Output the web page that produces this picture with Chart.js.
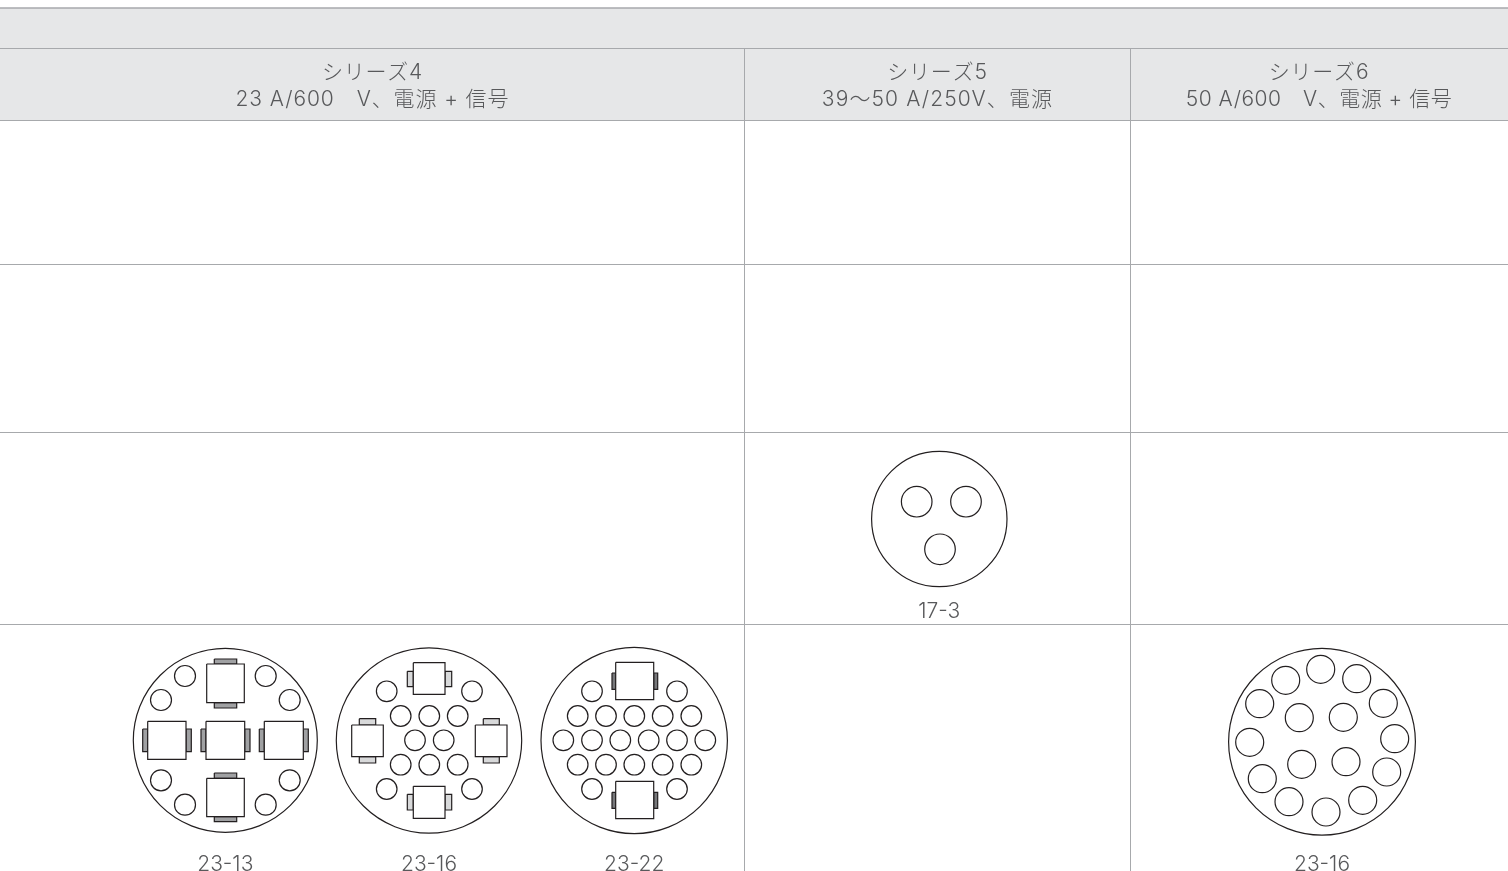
<!DOCTYPE html>
<html lang="ja">
<head>
<meta charset="utf-8">
<title>シリーズ</title>
<script src="https://cdn.jsdelivr.net/npm/chart.js@4/dist/chart.umd.min.js"></script>
<style>
    html, body { margin: 0; padding: 0; background: #fff; overflow: hidden; }
    canvas { display: block; }
</style>
</head>
<body>
<canvas id="connectorChart" width="1508" height="871"></canvas>
<script>
// Header texts
const seriesTitles = ['シリーズ4', 'シリーズ5', 'シリーズ6'];
const seriesRatings = ['23 A/600　V、電源 + 信号', '39〜50 A/250V、電源', '50 A/600　V、電源 + 信号'];
const seriesCenters = [372.5, 937.5, 1319];

// Table grid
const rowLines = [48.5, 120.5, 264.5, 432.5, 624.5];
const columnLines = [744.5, 1130.5];
const headerBand = [8, 120];

// Connector shells
const connectorNames = ['23-13', '23-16', '23-22', '17-3', '23-16'];
const shellX = [225.3, 429, 634.2, 939.3, 1322];
const shellY = [740.3, 740.5, 740.5, 519, 741.8];
const shellSizes = [92, 92.7, 93.2, 67.7, 93.4];
const nameY = [865, 865, 865, 612, 865];

// Round contacts
const pins2313 = [[185, 676], [161, 700], [265.7, 676], [289.7, 700], [161, 780.3], [185, 804.7], [289.7, 780.3], [265.7, 804.7]];
const pins2316 = [[386.7, 691.3], [472, 691.3], [400.7, 716], [429.3, 716], [457.7, 716], [415, 740.3], [443.7, 740.3],
    [400.7, 764.7], [429.3, 764.7], [457.7, 764.7], [386.7, 789], [472, 789]];
const pins2322 = [[592, 691.3], [677, 691.3],
    [577.7, 716], [606, 716], [634.3, 716], [662.7, 716], [691.3, 716],
    [563.3, 740.3], [592, 740.3], [620.3, 740.3], [648.7, 740.3], [677, 740.3], [705.3, 740.3],
    [577.7, 764.7], [606, 764.7], [634.3, 764.7], [662.7, 764.7], [691.3, 764.7],
    [592, 789], [677, 789]];
const pins173 = [[916.7, 501.7], [966, 501.7], [940, 549.3]];
const pins2316b = [[1320.7, 669.3], [1356.7, 678.7], [1383.3, 703.3], [1394.7, 738.7], [1386.7, 772], [1362.7, 800.3],
    [1326, 812], [1289, 801.7], [1262.3, 778.7], [1249.7, 742.3], [1259.7, 703.7], [1285.7, 680.3],
    [1299.3, 717.7], [1343.3, 717.3], [1301.7, 764.3], [1346, 761.7]];

// Square contacts as left, top, right, bottom
const bodies = [
    [206.7, 664, 244.3, 702.7], [147.7, 721.3, 186, 759.3], [206, 721.3, 244.7, 759.3], [264.3, 721.3, 303.3, 759.3], [206.7, 778.3, 244.3, 816.7],
    [413.3, 662.7, 445, 694.3], [351.7, 725, 383.3, 756.7], [475.3, 725, 507, 756.7], [413.3, 786.3, 445, 818.3],
    [615.7, 662.3, 653.7, 699.7], [615.7, 781.3, 653.7, 818.7]
];
const midTabs = [
    [214.3, 659, 236.7, 664], [214.3, 702.7, 236.7, 708], [142.7, 729, 147.7, 751.7], [186, 729, 191.3, 751.7], [201, 729, 206, 751.7],
    [244.7, 729, 250, 751.7], [259.3, 729, 264.3, 751.7], [303.3, 729, 308.3, 751.7], [214.3, 773, 236.7, 778.3], [214.3, 816.7, 236.7, 821.7]
];
const darkTabs = [
    [612, 673, 615.7, 689.3], [653.7, 673, 657.7, 689.3], [612, 792.3, 615.7, 808.3], [653.7, 792.3, 657.7, 808.3]
];
const lightTabs = [
    [407.3, 671.3, 413.3, 686.7], [445, 671.3, 451.7, 686.7], [407.3, 794.3, 413.3, 810], [445, 794.3, 451.7, 810],
    [359.3, 718.7, 375.7, 725], [359.3, 756.7, 375.7, 763], [483.3, 718.7, 499.3, 725], [483.3, 756.7, 499.3, 763]
];

const INK = '#231f20';
const GRID = '#a7a9ac';
const TEXT = '#58595b';
const ratingSpacing = ['0.9px', '1.1px', '0.5px'];

function box(b) {
    return [
        { x: b[0], y: b[1] }, { x: b[2], y: b[1] }, { x: b[2], y: b[3] },
        { x: b[0], y: b[3] }, { x: b[0], y: b[1] }
    ];
}

function pinSet(pins, size) {
    return {
        type: 'scatter',
        data: pins.map(p => ({ x: p[0], y: p[1] })),
        pointRadius: size,
        pointBorderWidth: 1.2,
        pointBorderColor: INK,
        pointBackgroundColor: 'rgba(0,0,0,0)'
    };
}

function boxSet(b, fillColor, order) {
    return {
        type: 'line',
        data: box(b),
        borderColor: INK,
        borderWidth: 1.2,
        pointRadius: 0,
        tension: 0,
        fill: 'shape',
        backgroundColor: fillColor,
        order: order
    };
}

function gridLine(points, width) {
    return { type: 'line', data: points, borderColor: GRID, borderWidth: width, pointRadius: 0, fill: false, order: 5 };
}

const datasets = [];

// Grey header band sits under everything
datasets.push({
    type: 'line',
    data: box([0, headerBand[0], 1508, headerBand[1]]),
    borderWidth: 0,
    pointRadius: 0,
    fill: 'shape',
    backgroundColor: '#e6e7e8',
    order: 10
});
datasets.push(gridLine([{ x: 0, y: headerBand[0] }, { x: 1508, y: headerBand[0] }], 1.5));
rowLines.forEach(y => datasets.push(gridLine([{ x: 0, y: y }, { x: 1508, y: y }], 1)));
columnLines.forEach(x => datasets.push(gridLine([{ x: x, y: rowLines[0] }, { x: x, y: 871 }], 1)));

// Shells
datasets.push({
    type: 'scatter',
    data: shellX.map((x, i) => ({ x: x, y: shellY[i] })),
    pointRadius: shellSizes,
    pointBorderWidth: 1.2,
    pointBorderColor: INK,
    pointBackgroundColor: 'rgba(0,0,0,0)'
});

datasets.push(pinSet(pins2313, 10.5));
datasets.push(pinSet(pins2316, 10.3));
datasets.push(pinSet(pins2322, 10.3));
datasets.push(pinSet(pins173, 15.3));
datasets.push(pinSet(pins2316b, 14));

darkTabs.forEach(b => datasets.push(boxSet(b, '#77787b', 3)));
midTabs.forEach(b => datasets.push(boxSet(b, '#a0a1a3', 3)));
lightTabs.forEach(b => datasets.push(boxSet(b, '#d8d9da', 3)));
bodies.forEach(b => datasets.push(boxSet(b, '#ffffff', 2)));

// Texts are placed through the chart scales
const tableText = {
    id: 'tableText',
    afterDatasetsDraw(chart) {
        const { ctx, scales } = chart;
        const put = (str, x, y) => ctx.fillText(str, scales.x.getPixelForValue(x), scales.y.getPixelForValue(y));
        ctx.save();
        ctx.fillStyle = TEXT;
        ctx.textAlign = 'center';
        ctx.textBaseline = 'middle';
        ctx.font = '300 21px Inter, "Noto Sans CJK JP", sans-serif';
        ctx.letterSpacing = '0.8px';
        seriesTitles.forEach((t, i) => put(t, seriesCenters[i], 73));
        seriesRatings.forEach((t, i) => {
            ctx.letterSpacing = ratingSpacing[i];
            put(t, seriesCenters[i], 100);
        });
        ctx.letterSpacing = '0px';
        connectorNames.forEach((t, i) => put(t, shellX[i], nameY[i]));
        ctx.restore();
    }
};

new Chart(document.getElementById('connectorChart').getContext('2d'), {
    data: { datasets: datasets },
    plugins: [tableText],
    options: {
        responsive: false,
        animation: false,
        events: [],
        // big point radii would otherwise shrink the plot area
        layout: { padding: 0, autoPadding: false },
        plugins: { legend: { display: false }, tooltip: { enabled: false } },
        scales: {
            x: { type: 'linear', min: 0, max: 1508, display: false },
            y: { type: 'linear', min: 0, max: 871, reverse: true, display: false }
        }
    }
});
</script>
</body>
</html>
